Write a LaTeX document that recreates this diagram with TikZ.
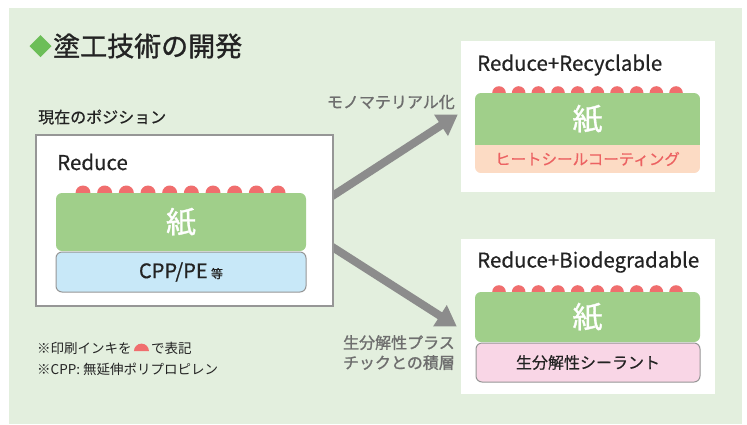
\documentclass[tikz,border=0pt]{standalone}
\usepackage{fontspec}
\setmainfont{Noto Sans CJK JP}
\newfontfamily\medfont{Noto Sans CJK JP}[FakeBold=0.5]
\newfontfamily\boldfont{Noto Sans CJK JP}[FakeBold=1.2]
\usetikzlibrary{arrows.meta}
\usetikzlibrary{calc}
\usetikzlibrary{backgrounds}

\definecolor{panelcol}{RGB}{227,239,222}
\definecolor{papergreen}{RGB}{160,207,138}
\definecolor{inkred}{RGB}{240,110,110}
\definecolor{heatcol}{RGB}{252,219,196}
\definecolor{heattext}{RGB}{236,98,98}
\definecolor{filmblue}{RGB}{200,232,248}
\definecolor{sealpink}{RGB}{249,214,230}
\definecolor{edgegray}{RGB}{150,150,150}
\definecolor{flowgray}{RGB}{140,140,140}
\definecolor{notegray}{RGB}{110,110,110}
\definecolor{markgreen}{RGB}{108,190,88}
\definecolor{inkdark}{RGB}{35,35,35}

\begin{document}
\begin{tikzpicture}[x=1pt, y=-1pt,
  stage/.style={fill=white, inner sep=0pt},
  paper/.style={fill=papergreen, inner sep=0pt, text=white,
    font=\boldfont\fontsize{30}{30}\selectfont},
  film/.style={draw=edgegray, line width=1pt, rounded corners=6pt, inner sep=0pt,
    text=inkdark},
  heading/.style={anchor=west, inner sep=0pt, text=inkdark,
    font=\medfont\fontsize{20.5}{20.5}\selectfont},
  flowlabel/.style={inner sep=0pt, text=notegray, align=right,
    font=\boldfont\fontsize{16}{20}\selectfont},
  note/.style={anchor=west, inner sep=0pt, text=inkdark,
    font=\fontsize{13.5}{13.5}\selectfont},
  flow/.style={draw=flowgray, line width=8pt,
    -{Triangle[length=20pt, width=24pt]}}]

  \useasboundingbox (0,0) rectangle (747,424);

  % --- fondo ---
  \begin{scope}[on background layer]
    \fill[panelcol] (9,8) rectangle (742,424);
  \end{scope}

  % --- titulo ---
  \fill[markgreen] (29.5,46) -- (40.5,35) -- (51.5,46) -- (40.5,57) -- cycle;
  \node[anchor=west, inner sep=0pt, text=inkdark,
    font=\boldfont\fontsize{27}{27}\selectfont] (title) at (53,46) {塗工技術の開発};

  % --- posicion actual ---
  \node[anchor=west, inner sep=0pt, text=inkdark,
    font=\medfont\fontsize{16}{16}\selectfont] (curlabel) at (38,117) {現在のポジション};
  \node[stage, draw=edgegray, line width=2pt, minimum width=297pt,
    minimum height=171pt] (cur) at (184.5,220.5) {};
  \node[heading] (curtitle) at (57,162) {Reduce};
  \foreach \i in {0,...,9}
    \fill[inkred] (83+21.67*\i,193) circle (7.5);
  \node[paper, rounded corners=6pt, minimum width=250pt, minimum height=58pt]
    (paperA) at (181,222) {紙};
  \node[film, fill=filmblue, minimum width=250pt, minimum height=40pt,
    font=\medfont\fontsize{20}{20}\selectfont] (filmA) at (181,272)
    {CPP/PE\,{\fontsize{12}{12}\selectfont 等}};

  % --- Reduce+Recyclable ---
  \node[stage, minimum width=254pt, minimum height=151pt] (rec) at (588,116.5) {};
  \node[heading] (rectitle) at (477,65) {Reduce+Recyclable};
  \foreach \i in {0,...,9}
    \fill[inkred] (499+19.67*\i,93) circle (6.8);
  \begin{scope}
    \clip[rounded corners=6pt] (475,93) rectangle (700,173);
    \node[paper, minimum width=225pt, minimum height=52pt] (paperB) at (587.5,119) {紙};
    \node[fill=heatcol, inner sep=0pt, minimum width=225pt, minimum height=28pt,
      text=heattext, font=\medfont\fontsize{15.5}{15.5}\selectfont] (heatB) at (587.5,159)
      {ヒートシールコーティング};
  \end{scope}

  % --- Reduce+Biodegradable ---
  \node[stage, minimum width=254pt, minimum height=155pt] (bio) at (588,316.5) {};
  \node[heading] (biotitle) at (477,262) {Reduce+Biodegradable};
  \foreach \i in {0,...,9}
    \fill[inkred] (499+19.67*\i,292) circle (6.8);
  \node[paper, rounded corners=6pt, minimum width=225pt, minimum height=50pt]
    (paperC) at (587.5,317) {紙};
  \node[film, fill=sealpink, minimum width=224pt, minimum height=39pt,
    font=\medfont\fontsize{16}{16}\selectfont] (sealC) at (588,362.5) {生分解性シーラント};

  % --- flechas ---
  \begin{scope}[on background layer]
    \draw[flow] ($(cur.east)+(-4,-23)$) -- ($(rec.west)+(-3,-2)$);
    \draw[flow] ($(cur.east)+(-4,25)$) -- ($(bio.west)+(-4,10)$);
  \end{scope}
  \node[flowlabel, anchor=east] (monolabel) at (455,102) {モノマテリアル化};
  \node[flowlabel, anchor=north east] (biolabel) at (455,335)
    {生分解性プラス\\チックとの積層};

  % --- notas ---
  \node[note] (note1) at (37,348) {※印刷インキを\,\tikz[x=1pt,y=1pt,baseline=-2pt]
    \fill[inkred] (0,0) -- (15,0) arc[start angle=0, end angle=180, radius=7.5] -- cycle;\,で表記};
  \node[note] (note2) at (37,369) {※CPP: 無延伸ポリプロピレン};

\end{tikzpicture}
\end{document}
